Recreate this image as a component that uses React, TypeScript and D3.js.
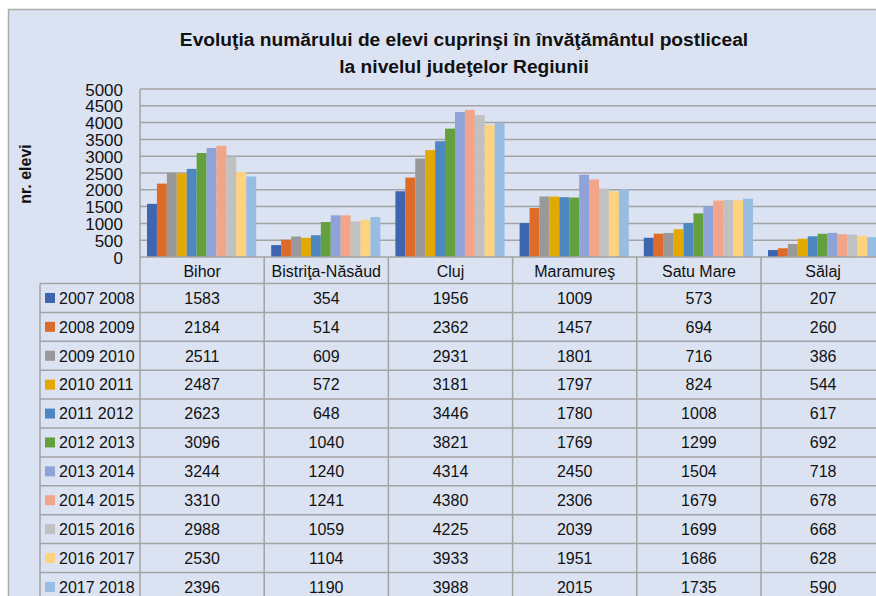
import React, { useEffect, useRef } from "react";
import * as d3 from "d3";

// judete (categorii)
const counties = ["Bihor", "Bistriţa-Năsăud", "Cluj", "Maramureş", "Satu Mare", "Sălaj"];

// ani scolari (serii)
const years = [
  "2007 2008", "2008 2009", "2009 2010", "2010 2011", "2011 2012", "2012 2013",
  "2013 2014", "2014 2015", "2015 2016", "2016 2017", "2017 2018",
];

// numar de elevi pe an, in ordinea judetelor
const v0708 = [1583, 354, 1956, 1009, 573, 207];
const v0809 = [2184, 514, 2362, 1457, 694, 260];
const v0910 = [2511, 609, 2931, 1801, 716, 386];
const v1011 = [2487, 572, 3181, 1797, 824, 544];
const v1112 = [2623, 648, 3446, 1780, 1008, 617];
const v1213 = [3096, 1040, 3821, 1769, 1299, 692];
const v1314 = [3244, 1240, 4314, 2450, 1504, 718];
const v1415 = [3310, 1241, 4380, 2306, 1679, 678];
const v1516 = [2988, 1059, 4225, 2039, 1699, 668];
const v1617 = [2530, 1104, 3933, 1951, 1686, 628];
const v1718 = [2396, 1190, 3988, 2015, 1735, 590];

const yTicks = [0, 500, 1000, 1500, 2000, 2500, 3000, 3500, 4000, 4500, 5000];

const colors = [
  "#3d65b0", "#dd6c2a", "#999999", "#e3a802", "#4e88c0", "#64a03e",
  "#8fa3d8", "#f2a58a", "#c1c1c1", "#ffd27e", "#98bde3",
];

const series = [v0708, v0809, v0910, v1011, v1112, v1213, v1314, v1415, v1516, v1617, v1718];

export default function App() {
  const ref = useRef<SVGSVGElement>(null);

  useEffect(() => {
    const svg = d3.select(ref.current);
    svg.selectAll("*").remove();

    const W = 876, H = 596;
    const plotTop = 89, plotBottom = 257, plotLeft = 140;
    const colW = 124.2;
    const font = "'Liberation Sans', Arial, sans-serif";
    const grid = "#a3a3a3";

    // fundal + chenar
    svg.append("rect").attr("width", W).attr("height", H).attr("fill", "#fff");
    svg.append("rect")
      .attr("x", 8.5).attr("y", 9.5).attr("width", W).attr("height", H)
      .attr("fill", "#dbe3f3").attr("stroke", "#aaaaaa").attr("stroke-width", 1.5);

    // titlu
    const title = svg.append("text")
      .attr("text-anchor", "middle")
      .attr("font-family", font).attr("font-weight", "bold")
      .attr("font-size", 19.2).attr("fill", "#111");
    title.append("tspan").attr("x", 464).attr("y", 46)
      .text("Evoluţia numărului de elevi cuprinşi în învăţământul postliceal");
    title.append("tspan").attr("x", 464).attr("y", 73)
      .text("la nivelul judeţelor Regiunii");

    const x0 = d3.scaleBand<string>()
      .domain(counties)
      .range([plotLeft, plotLeft + colW * counties.length])
      .paddingInner(0).paddingOuter(0);
    const x1 = d3.scaleBand<string>()
      .domain(years)
      .range([7, colW - 8]);
    const y = d3.scaleLinear().domain([0, 5000]).range([plotBottom, plotTop]);

    // gridlines
    svg.append("g").selectAll("line")
      .data(yTicks.filter((t) => t > 0))
      .join("line")
      .attr("x1", plotLeft).attr("x2", W)
      .attr("y1", (d) => y(d)).attr("y2", (d) => y(d))
      .attr("stroke", grid).attr("stroke-width", 1.5);

    // axa y
    const yAxis = svg.append("g")
      .attr("transform", `translate(${plotLeft},0)`)
      .call(d3.axisLeft(y).tickValues(yTicks).tickSize(0).tickPadding(17).tickFormat(d3.format("d")));
    yAxis.select(".domain").remove();
    yAxis.selectAll("text")
      .attr("font-family", "'Liberation Sans Narrow', 'Liberation Sans', Arial, sans-serif")
      .attr("font-size", 17).attr("fill", "#111").attr("dy", "0.36em");

    svg.append("text")
      .attr("transform", "translate(31,174) rotate(-90)")
      .attr("text-anchor", "middle")
      .attr("font-family", font).attr("font-weight", "bold").attr("font-size", 16)
      .attr("fill", "#111")
      .text("nr. elevi");

    // bare
    svg.append("g").selectAll("g")
      .data(series)
      .join("g")
      .attr("fill", (_, i) => colors[i])
      .each(function (vals, i) {
        d3.select(this).selectAll("rect")
          .data(vals)
          .join("rect")
          .attr("x", (_, j) => (x0(counties[j]) as number) + (x1(years[i]) as number))
          .attr("width", x1.bandwidth())
          .attr("y", (d) => y(d))
          .attr("height", (d) => plotBottom - y(d));
      });

    // tabel
    const headerH = 26.5, rowH = 28.9, legendLeft = 40;
    const tableBottom = plotBottom + headerH + rowH * years.length;
    const g = svg.append("g");

    g.append("line").attr("x1", plotLeft).attr("x2", W)
      .attr("y1", plotBottom).attr("y2", plotBottom)
      .attr("stroke", grid).attr("stroke-width", 1.5);
    g.append("line").attr("x1", plotLeft).attr("x2", plotLeft)
      .attr("y1", plotTop).attr("y2", tableBottom)
      .attr("stroke", grid).attr("stroke-width", 1.5);
    g.selectAll(".vcol")
      .data(counties)
      .join("line")
      .attr("x1", (d) => (x0(d) as number) + colW).attr("x2", (d) => (x0(d) as number) + colW)
      .attr("y1", plotBottom).attr("y2", tableBottom)
      .attr("stroke", grid).attr("stroke-width", 1.5);
    g.append("line").attr("x1", legendLeft).attr("x2", legendLeft)
      .attr("y1", plotBottom + headerH).attr("y2", tableBottom)
      .attr("stroke", grid).attr("stroke-width", 1.5);
    g.selectAll(".hrow")
      .data(d3.range(years.length + 1))
      .join("line")
      .attr("x1", legendLeft).attr("x2", W)
      .attr("y1", (i) => plotBottom + headerH + i * rowH)
      .attr("y2", (i) => plotBottom + headerH + i * rowH)
      .attr("stroke", grid).attr("stroke-width", 1.5);

    g.selectAll(".hdr")
      .data(counties)
      .join("text")
      .attr("x", (d) => (x0(d) as number) + colW / 2)
      .attr("y", plotBottom + headerH / 2 + 1)
      .attr("dy", "0.36em")
      .attr("text-anchor", "middle")
      .attr("font-family", font).attr("font-size", 16).attr("fill", "#111")
      .text((d) => d);

    years.forEach((yr, i) => {
      const cy = plotBottom + headerH + i * rowH + rowH / 2;
      g.append("rect").attr("x", 45).attr("y", cy - 5).attr("width", 10).attr("height", 10)
        .attr("fill", colors[i]);
      g.append("text").attr("x", 59).attr("y", cy).attr("dy", "0.36em")
        .attr("font-family", font).attr("font-size", 16).attr("fill", "#111")
        .text(yr);
      g.selectAll(`.c${i}`)
        .data(series[i])
        .join("text")
        .attr("x", (_, j) => (x0(counties[j]) as number) + colW / 2)
        .attr("y", cy).attr("dy", "0.36em")
        .attr("text-anchor", "middle")
        .attr("font-family", font).attr("font-size", 16).attr("fill", "#111")
        .text((d) => d);
    });
  }, []);

  return (
    <svg
      ref={ref}
      width={876}
      height={596}
      style={{ position: "absolute", left: 0, top: 0, display: "block" }}
    />
  );
}
